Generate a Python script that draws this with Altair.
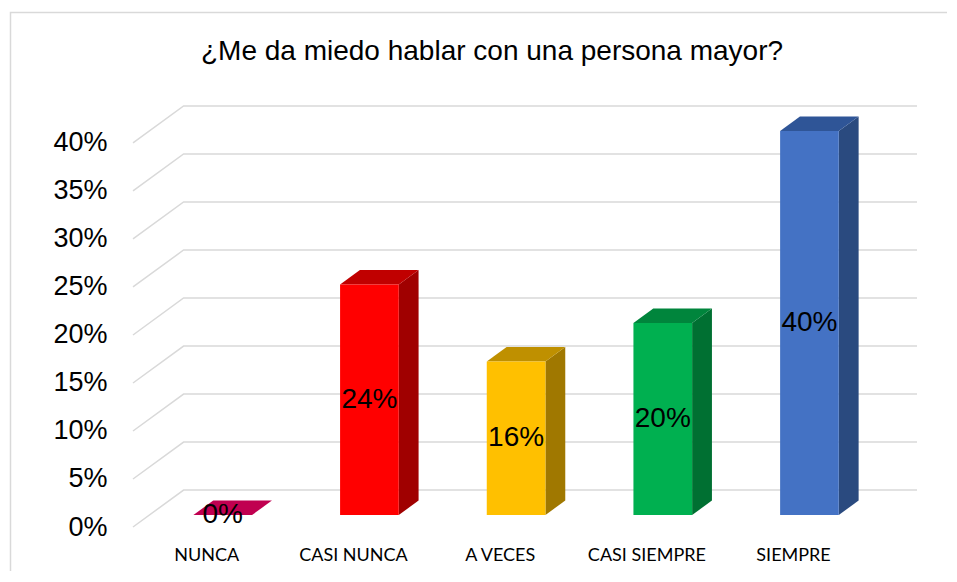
import json
import altair as alt
import pandas as pd

# ---- data ----
categories = ["NUNCA", "CASI NUNCA", "A VECES", "CASI SIEMPRE", "SIEMPRE"]
values = [0, 24, 16, 20, 40]
front_colors = ["#FF006B", "#FF0000", "#FFC000", "#00B050", "#4472C4"]
top_colors = ["#C00050", "#C00000", "#BF9000", "#00853C", "#2F5597"]
side_colors = ["#A00043", "#A00000", "#A07800", "#007032", "#2A4A7F"]
y_ticks = [0, 5, 10, 15, 20, 25, 30, 35, 40]
title_text = "¿Me da miedo hablar con una persona mayor?"

# ---- pseudo-3D geometry (in scale units) ----
DX = 0.345      # depth in category units
DY = 3.85       # depth in percent units
F1 = 0.324      # front face of bar, fraction of depth
F2 = 0.716      # back face of bar, fraction of depth
BW = 0.40       # bar width
X_MIN, X_MAX = -0.5, len(categories) - 0.5 + DX
Y_MAX = max(y_ticks) + DY
W, H = 784, 421

front_rows, side_rows, top_rows, label_rows = [], [], [], []
for i, (c, v) in enumerate(zip(categories, values)):
    xf = i + F1 * DX
    xb = i + F2 * DX
    yf = F1 * DY
    yb = F2 * DY
    front_rows.append(dict(cat=c, x=xf - BW / 2, x2=xf + BW / 2, y=yf, y2=yf + v, color=front_colors[i]))
    side_rows.append(dict(cat=c, x=xf + BW / 2, y=yf, y2=yf + v, color=side_colors[i]))
    side_rows.append(dict(cat=c, x=xb + BW / 2, y=yb, y2=yb + v, color=side_colors[i]))
    top_rows.append(dict(cat=c, y=yf + v, x=xf - BW / 2, x2=xf + BW / 2, color=top_colors[i]))
    top_rows.append(dict(cat=c, y=yb + v, x=xb - BW / 2, x2=xb + BW / 2, color=top_colors[i]))
    label_rows.append(dict(cat=c, x=xf, y=yf + v / 2, text=f"{v}%"))

grid_rows = []
for g in y_ticks:
    grid_rows.append(dict(g=g, o=0, x=X_MIN, y=g))
    grid_rows.append(dict(g=g, o=1, x=X_MIN + DX, y=g + DY))
    grid_rows.append(dict(g=g, o=2, x=X_MAX, y=g + DY))

front_df = pd.DataFrame(front_rows)
side_df = pd.DataFrame(side_rows)
top_df = pd.DataFrame(top_rows)
label_df = pd.DataFrame(label_rows)
grid_df = pd.DataFrame(grid_rows)

xs = alt.Scale(domain=[X_MIN, X_MAX], nice=False, zero=False)
ys = alt.Scale(domain=[0, Y_MAX], nice=False, zero=False)

x_axis = alt.Axis(
    values=list(range(len(categories))),
    labelExpr=json.dumps(categories).replace('"', "'") + "[datum.value]",
    labelFont="Lato", labelFontSize=18, labelColor="#000000",
    labelPadding=19, tickSize=0, ticks=False, domain=False, grid=False,
    labelFlush=False, labelOverlap=False, title=None,
)
y_axis = alt.Axis(
    values=y_ticks, labelExpr="datum.value + '%'",
    labelFont="Liberation Sans", labelFontSize=27, labelColor="#000000",
    labelPadding=26, tickSize=0, ticks=False, domain=False, grid=False,
    labelFlush=False, labelOverlap=False, title=None,
)

def X(f="x"):
    return alt.X(f"{f}:Q", scale=xs, axis=x_axis)

def Y(f="y"):
    return alt.Y(f"{f}:Q", scale=ys, axis=y_axis)

grid = alt.Chart(grid_df).mark_line(color="#D9D9D9", strokeWidth=1.5).encode(
    x=X(), y=Y(), detail="g:N", order="o:Q"
)

side = alt.Chart(side_df).mark_area(orient="vertical").encode(
    x=X(), y=Y(), y2="y2:Q", detail="cat:N", fill=alt.Fill("color:N", scale=None)
)

top = alt.Chart(top_df).mark_area(orient="horizontal").encode(
    y=Y(), x=X(), x2="x2:Q", detail="cat:N", fill=alt.Fill("color:N", scale=None)
)

front = alt.Chart(front_df).mark_rect().encode(
    x=X(), x2="x2:Q", y=Y(), y2="y2:Q", fill=alt.Fill("color:N", scale=None)
)

labels = alt.Chart(label_df).mark_text(
    font="Liberation Sans", fontSize=28, color="#000000", baseline="middle", align="center"
).encode(x=X(), y=Y(), text="text:N")

border = alt.Chart(pd.DataFrame({"k": [0]})).mark_rect(
    fill="white", fillOpacity=0, stroke="#D9D9D9", strokeWidth=1.5
).encode(
    x=alt.value(-122.5), y=alt.value(-93.5), x2=alt.value(W + 80), y2=alt.value(H + 100)
)

title = alt.Chart(pd.DataFrame({"t": [title_text]})).mark_text(
    font="Liberation Sans", fontSize=28, color="#000000", baseline="alphabetic", align="center"
).encode(x=alt.value(359), y=alt.value(-46), text="t:N")

chart = alt.layer(border, grid, side, top, front, labels, title).properties(
    width=W,
    height=H,
    autosize=alt.AutoSizeParams(type="none"),
    padding={"left": 125, "top": 98, "right": 30, "bottom": 44},
    background="white",
).configure_view(stroke=None)

chart.save("out.html", embed_options={"renderer": "svg", "actions": False})
